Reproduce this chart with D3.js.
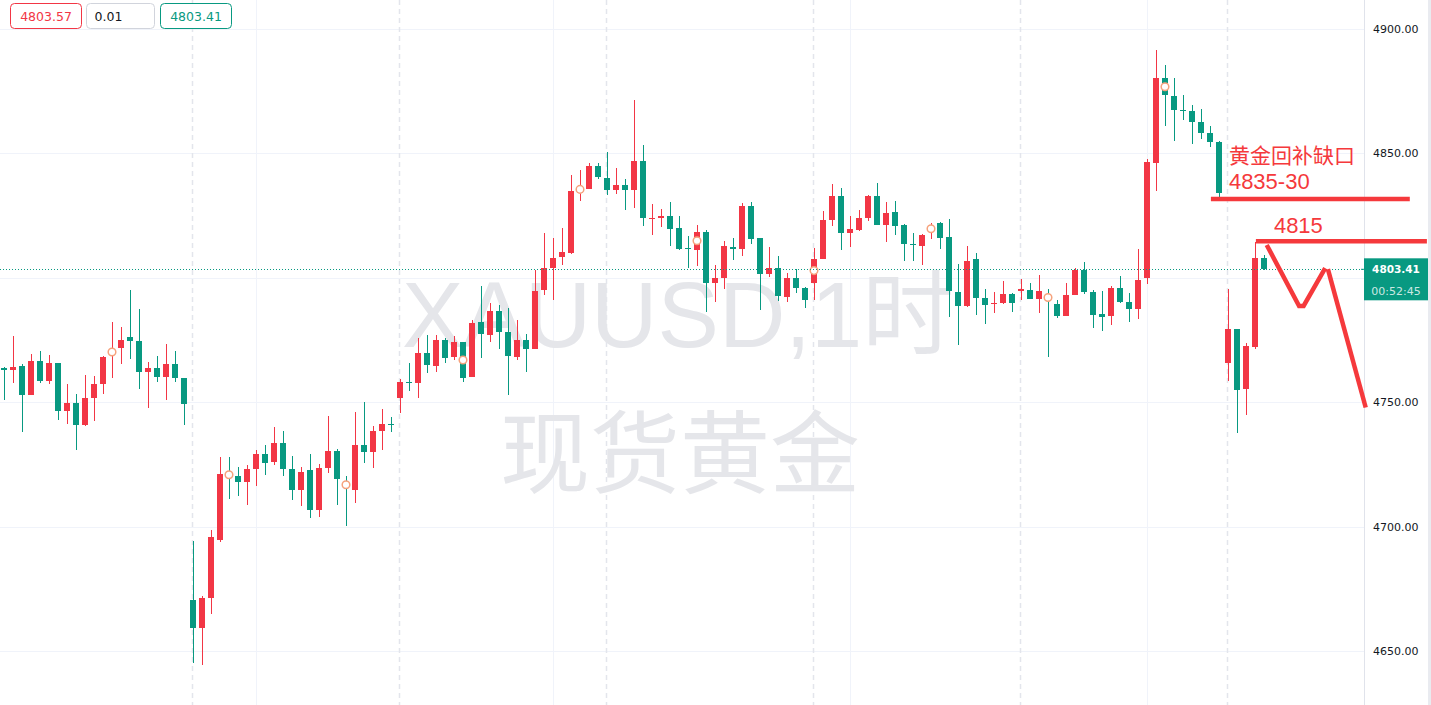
<!DOCTYPE html>
<html>
<head>
<meta charset="utf-8">
<script src="https://cdn.jsdelivr.net/npm/d3@7"></script>
<style>
html, body { margin: 0; padding: 0; background: #fff; overflow: hidden; }
</style>
</head>
<body>
<svg id="chart" width="1431" height="705"></svg>
<script>
// hourly XAUUSD candles, index 0..140
var opens = [
  4763.8, 4763.0, 4764.6, 4753.0, 4766.6, 4758.7, 4765.8, 4746.6, 4749.7, 4741.0,
  4751.8, 4757.5, 4769.0, 4771.8, 4776.2, 4774.6, 4762.2, 4763.8, 4760.2, 4765.4,
  4759.8, 4670.6, 4659.5, 4671.5, 4694.7, 4721.5, 4720.4, 4718.1, 4723.3, 4729.2,
  4726.1, 4733.7, 4723.2, 4714.9, 4722.8, 4706.9, 4723.7, 4730.4, 4717.5, 4714.9,
  4732.9, 4730.2, 4738.6, 4741.2, 4751.8, 4758.0, 4757.9, 4769.7, 4764.7, 4775.0,
  4768.3, 4774.2, 4760.3, 4782.2, 4777.1, 4786.7, 4778.2, 4768.3, 4775.0, 4771.5,
  4795.1, 4803.9, 4808.5, 4810.0, 4834.0, 4835.7, 4844.9, 4840.1, 4835.4, 4837.3,
  4835.4, 4847.0, 4823.8, 4824.1, 4824.8, 4820.1, 4811.9, 4811.3, 4818.4, 4798.0,
  4800.0, 4812.5, 4811.7, 4828.8, 4816.1, 4801.6, 4804.1, 4792.4, 4800.0, 4796.0,
  4798.0, 4807.7, 4823.3, 4832.9, 4818.1, 4819.2, 4824.1, 4832.9, 4821.3, 4826.4,
  4821.2, 4813.4, 4812.9, 4818.8, 4822.0, 4816.4, 4794.3, 4788.8, 4807.6, 4792.0,
  4789.4, 4790.0, 4793.5, 4794.8, 4795.1, 4791.6, 4792.0, 4789.4, 4784.7, 4793.0,
  4803.1, 4794.3, 4785.5, 4784.8, 4795.9, 4790.3, 4787.5, 4799.9, 4846.2, 4880.2,
  4873.0, 4867.5, 4867.1, 4862.7, 4858.3, 4854.7, 4765.9, 4779.6, 4755.5, 4772.3,
  4808.0
];
var highs = [
  4764.2, 4776.6, 4765.4, 4769.4, 4770.6, 4769.0, 4765.8, 4757.3, 4753.3, 4761.0,
  4760.6, 4768.6, 4782.2, 4780.3, 4795.1, 4787.5, 4766.2, 4768.6, 4773.4, 4770.6,
  4759.8, 4694.4, 4672.2, 4698.7, 4728.0, 4728.0, 4724.0, 4724.8, 4730.8, 4732.9,
  4740.1, 4738.5, 4728.4, 4724.0, 4729.2, 4725.2, 4744.5, 4731.2, 4720.5, 4746.1,
  4750.1, 4740.5, 4747.3, 4744.1, 4759.5, 4765.7, 4775.7, 4776.9, 4776.9, 4775.7,
  4776.6, 4774.2, 4783.1, 4796.7, 4789.9, 4789.1, 4787.9, 4783.1, 4777.4, 4803.1,
  4818.0, 4816.1, 4820.0, 4841.3, 4843.3, 4846.1, 4846.1, 4850.5, 4844.1, 4839.7,
  4871.4, 4853.3, 4829.6, 4827.8, 4830.4, 4824.8, 4816.9, 4821.3, 4819.2, 4805.3,
  4814.9, 4816.1, 4830.0, 4830.4, 4816.1, 4812.5, 4808.9, 4802.0, 4803.5, 4796.5,
  4812.0, 4826.8, 4837.7, 4836.1, 4824.8, 4827.2, 4833.3, 4838.1, 4830.4, 4830.8,
  4821.6, 4818.0, 4817.5, 4822.1, 4822.4, 4823.6, 4805.5, 4812.8, 4810.1, 4795.6,
  4794.4, 4798.8, 4794.0, 4799.6, 4797.9, 4801.1, 4795.6, 4791.1, 4797.8, 4804.1,
  4806.5, 4795.1, 4794.7, 4796.7, 4800.7, 4793.9, 4811.6, 4847.8, 4891.5, 4885.5,
  4880.2, 4873.4, 4869.5, 4867.8, 4861.1, 4855.1, 4795.4, 4779.6, 4773.9, 4814.5,
  4809.2
];
var lows = [
  4750.9, 4757.9, 4738.1, 4753.0, 4757.9, 4757.5, 4743.0, 4741.3, 4730.8, 4740.6,
  4742.6, 4753.5, 4759.9, 4765.4, 4767.4, 4755.5, 4747.8, 4758.3, 4751.0, 4758.3,
  4741.0, 4645.2, 4644.6, 4665.1, 4693.9, 4711.3, 4712.5, 4708.9, 4716.5, 4720.9,
  4724.9, 4720.5, 4710.9, 4708.5, 4703.7, 4704.1, 4721.7, 4708.9, 4700.4, 4709.7,
  4725.7, 4723.7, 4731.0, 4738.2, 4745.8, 4754.7, 4751.8, 4761.9, 4762.3, 4765.9,
  4767.1, 4758.3, 4760.3, 4767.9, 4774.3, 4771.5, 4753.1, 4767.1, 4762.3, 4771.5,
  4793.2, 4791.1, 4805.1, 4809.6, 4831.0, 4835.7, 4839.7, 4833.4, 4833.8, 4827.3,
  4828.2, 4820.9, 4817.3, 4820.5, 4812.9, 4811.3, 4804.1, 4804.9, 4786.4, 4790.4,
  4795.6, 4807.3, 4808.9, 4813.7, 4787.2, 4800.4, 4790.8, 4790.4, 4794.0, 4788.0,
  4791.2, 4807.7, 4820.9, 4811.3, 4812.5, 4818.8, 4822.9, 4821.3, 4814.5, 4817.3,
  4806.9, 4806.9, 4805.3, 4815.7, 4811.7, 4784.4, 4773.1, 4788.4, 4785.2, 4781.6,
  4786.0, 4789.6, 4786.4, 4791.2, 4791.6, 4786.0, 4768.3, 4784.0, 4784.7, 4793.0,
  4793.5, 4779.7, 4778.8, 4781.0, 4789.9, 4782.2, 4783.5, 4797.6, 4835.0, 4861.1,
  4855.1, 4863.5, 4853.9, 4855.9, 4852.7, 4832.5, 4758.7, 4737.6, 4745.0, 4771.5,
  4803.1
];
var closes = [
  4763.0, 4764.2, 4753.0, 4766.6, 4758.7, 4765.8, 4746.6, 4749.7, 4741.0, 4751.7,
  4757.3, 4768.2, 4771.5, 4775.0, 4774.6, 4762.2, 4763.8, 4760.2, 4765.4, 4759.8,
  4749.4, 4659.5, 4671.4, 4695.9, 4721.2, 4720.0, 4718.1, 4723.2, 4729.2, 4725.7,
  4733.7, 4723.3, 4714.9, 4722.0, 4706.9, 4723.6, 4730.4, 4719.3, 4716.5, 4732.9,
  4730.2, 4738.5, 4741.3, 4741.0, 4758.0, 4757.8, 4769.7, 4765.1, 4775.0, 4767.9,
  4774.2, 4759.9, 4781.8, 4777.6, 4786.7, 4778.4, 4768.7, 4775.0, 4771.5, 4794.7,
  4803.9, 4808.0, 4810.4, 4834.9, 4836.5, 4844.9, 4840.5, 4835.4, 4837.3, 4835.4,
  4847.0, 4824.1, 4824.2, 4825.0, 4819.7, 4811.7, 4811.5, 4818.4, 4798.0, 4799.9,
  4812.9, 4811.7, 4828.8, 4815.7, 4801.6, 4804.1, 4792.8, 4800.0, 4796.0, 4791.2,
  4807.6, 4823.2, 4832.9, 4818.1, 4819.6, 4824.0, 4832.9, 4821.3, 4826.0, 4820.9,
  4813.7, 4813.2, 4817.2, 4820.2, 4816.1, 4794.8, 4788.8, 4806.9, 4792.0, 4789.2,
  4789.8, 4793.5, 4790.0, 4795.6, 4791.6, 4794.7, 4790.5, 4784.7, 4793.0, 4803.1,
  4794.3, 4785.1, 4784.4, 4795.9, 4790.3, 4787.5, 4799.1, 4846.5, 4880.2, 4873.4,
  4867.5, 4867.1, 4862.7, 4858.3, 4854.7, 4834.2, 4779.6, 4755.1, 4772.7, 4808.1,
  4803.41
];

// small orange event markers
var markerIndex = [12, 25, 38, 51, 64, 77, 90, 103, 116, 129];
var markerPrice = [4770.2, 4720.9, 4716.9, 4767.0, 4835.5, 4814.9, 4802.9, 4819.7, 4792.1, 4876.7];

var priceTicks = [4650, 4700, 4750, 4800, 4850, 4900];
var sessionStarts = [21, 44, 67, 90, 113, 136];
var timeGrid = [28, 61, 94, 127];

var lastPrice = 4803.41;
var quoteBoxes = ["4803.57", "0.01", "4803.41"];
var countdown = "00:52:45";

// drawn annotation (index, price)
var gapLines = [[134.1, 156.2, 4831.6], [139.1, 158.1, 4814.7]];
var zigzagA = [[140.3, 4813.2], [143.9, 4788.7], [144.4, 4788.7], [146.8, 4803.9]];
var zigzagB = [[147.1, 4803.5], [151.3, 4747.9]];
var noteTexts = [["黄金回补缺口", 136.1, 4846.1, 21, "'Noto Sans CJK SC'"],
                 ["4835-30", 136.1, 4835.7, 22, "'Liberation Sans', Arial"],
                 ["4815", 141.1, 4817.9, 22, "'Liberation Sans', Arial"]];

var UP = "#f23645", DOWN = "#089981", NOTE = "#f5393c";
var W = 1431, H = 705, plotRight = 1364;

var svg = d3.select("#chart");
var x = d3.scaleLinear().domain([0, 140]).range([4, 1264]);
var y = d3.scaleLinear().domain([4650, 4900]).range([651.3, 28.8]);

svg.append("rect").attr("width", W).attr("height", H).attr("fill", "#fff");

// grid
var grid = svg.append("g");
grid.selectAll("line.h").data(priceTicks).enter().append("line")
  .attr("x1", 0).attr("x2", plotRight)
  .attr("y1", function(d) { return Math.round(y(d)) + 0.5; })
  .attr("y2", function(d) { return Math.round(y(d)) + 0.5; })
  .attr("stroke", "#f0f3fa").attr("stroke-width", 1);
grid.selectAll("line.v").data(timeGrid).enter().append("line")
  .attr("y1", 0).attr("y2", H)
  .attr("x1", function(d) { return x(d) + 0.5; })
  .attr("x2", function(d) { return x(d) + 0.5; })
  .attr("stroke", "#f0f3fa").attr("stroke-width", 1);
grid.selectAll("line.s").data(sessionStarts).enter().append("line")
  .attr("y1", 0).attr("y2", H)
  .attr("x1", function(d) { return x(d) - 0.5; })
  .attr("x2", function(d) { return x(d) - 0.5; })
  .attr("stroke", "#e3e5ec").attr("stroke-width", 1.5)
  .attr("stroke-dasharray", "5,4");

// watermark
var wm = svg.append("g").attr("fill", "#e5e6ea");
wm.append("text").attr("x", 678).attr("y", 347).attr("text-anchor", "middle")
  .attr("font-family", "'Liberation Sans', Arial, 'Noto Sans CJK SC', sans-serif").attr("font-size", 92)
  .text("XAUUSD,1时");
wm.append("text").attr("x", 680).attr("y", 486).attr("text-anchor", "middle")
  .attr("font-family", "'Noto Sans CJK SC', sans-serif").attr("font-size", 90)
  .text("现货黄金");

// candles
var idx = d3.range(opens.length);
var candles = svg.append("g").attr("shape-rendering", "crispEdges");
candles.selectAll("rect.wick").data(idx).enter().append("rect")
  .attr("x", function(i) { return x(i) - 0.5; })
  .attr("width", 1)
  .attr("y", function(i) { return y(highs[i]); })
  .attr("height", function(i) { return Math.max(1, y(lows[i]) - y(highs[i])); })
  .attr("fill", function(i) { return closes[i] >= opens[i] ? UP : DOWN; });
candles.selectAll("rect.body").data(idx).enter().append("rect")
  .attr("x", function(i) { return x(i) - 3; })
  .attr("width", 6)
  .attr("y", function(i) { return y(Math.max(opens[i], closes[i])); })
  .attr("height", function(i) { return Math.max(1, Math.abs(y(opens[i]) - y(closes[i]))); })
  .attr("fill", function(i) { return closes[i] >= opens[i] ? UP : DOWN; });

// markers
svg.append("g").selectAll("circle").data(markerIndex).enter().append("circle")
  .attr("cx", function(d) { return x(d); })
  .attr("cy", function(d, k) { return y(markerPrice[k]); })
  .attr("r", 3.8).attr("fill", "#fff")
  .attr("stroke", "#f6a27c").attr("stroke-width", 1.5);

// last price line
svg.append("line").attr("x1", 0).attr("x2", plotRight)
  .attr("y1", Math.round(y(lastPrice)) + 0.5).attr("y2", Math.round(y(lastPrice)) + 0.5)
  .attr("stroke", DOWN).attr("stroke-width", 1).attr("stroke-dasharray", "1,2");

// right price scale
svg.append("rect").attr("x", plotRight).attr("y", 0).attr("width", W - plotRight).attr("height", H).attr("fill", "#fff");
svg.append("line").attr("x1", plotRight + 0.5).attr("x2", plotRight + 0.5).attr("y1", 0).attr("y2", H)
  .attr("stroke", "#e0e3eb");
svg.append("rect").attr("x", 1428).attr("y", 0).attr("width", 3).attr("height", H).attr("fill", "#e9ebf0");
var axis = d3.axisRight(y).tickValues(priceTicks.filter(function(d) { return Math.abs(y(d) - y(lastPrice)) > 25; }))
  .tickSize(0).tickPadding(0)
  .tickFormat(function(d) { return d3.format(".2f")(d); });
var ag = svg.append("g").attr("transform", "translate(1373,0)").call(axis);
ag.select(".domain").remove();
ag.selectAll("text").attr("font-family", "'DejaVu Sans', sans-serif").attr("font-size", 11)
  .attr("fill", "#131722");

// annotation (drawn over the scale, as in the source)
var note = svg.append("g");
note.selectAll("line").data(gapLines).enter().append("line")
  .attr("x1", function(d) { return x(d[0]); })
  .attr("x2", function(d) { return x(d[1]); })
  .attr("y1", function(d) { return y(d[2]); })
  .attr("y2", function(d) { return y(d[2]); })
  .attr("stroke", NOTE).attr("stroke-width", 4.5);
var zig = d3.line().x(function(d) { return x(d[0]); }).y(function(d) { return y(d[1]); });
[zigzagA, zigzagB].forEach(function(pts) {
  note.append("path").attr("d", zig(pts)).attr("fill", "none")
    .attr("stroke", NOTE).attr("stroke-width", 4.5).attr("stroke-linejoin", "miter");
});
note.selectAll("text").data(noteTexts).enter().append("text")
  .attr("x", function(d) { return x(d[1]); })
  .attr("y", function(d) { return y(d[2]); })
  .attr("font-size", function(d) { return d[3]; })
  .attr("font-family", function(d) { return d[4]; })
  .attr("fill", NOTE)
  .text(function(d) { return d[0]; });

// last price label
var ly = y(lastPrice);
svg.append("rect").attr("x", plotRight).attr("y", ly - 11).attr("width", 64).attr("height", 42)
  .attr("fill", DOWN);
svg.append("line").attr("x1", plotRight - 3).attr("x2", plotRight).attr("y1", ly).attr("y2", ly)
  .attr("stroke", DOWN);
svg.append("text").attr("x", plotRight + 32).attr("y", ly + 4).attr("text-anchor", "middle")
  .attr("font-family", "'DejaVu Sans', sans-serif").attr("font-size", 10.5).attr("font-weight", "bold")
  .attr("fill", "#fff").text(d3.format(".2f")(lastPrice));
svg.append("text").attr("x", plotRight + 32).attr("y", ly + 26).attr("text-anchor", "middle")
  .attr("font-family", "'DejaVu Sans', sans-serif").attr("font-size", 11)
  .attr("fill", "#fff").attr("fill-opacity", 0.8).text(countdown);

// quote boxes at top left
var boxX = [10.5, 86.5, 160.5], boxW = [71, 68, 71];
var boxStroke = [UP, "#d1d4dc", DOWN], boxText = [UP, "#131722", DOWN];
quoteBoxes.forEach(function(t, k) {
  svg.append("rect").attr("x", boxX[k]).attr("y", 3.5).attr("width", boxW[k]).attr("height", 25)
    .attr("rx", 4).attr("fill", "#fff").attr("stroke", boxStroke[k]);
  svg.append("text")
    .attr("x", k === 1 ? boxX[k] + 8 : boxX[k] + boxW[k] / 2)
    .attr("y", 21)
    .attr("text-anchor", k === 1 ? "start" : "middle")
    .attr("font-family", "'DejaVu Sans', sans-serif").attr("font-size", 12.5)
    .attr("fill", boxText[k]).text(t);
});
</script>
</body>
</html>
